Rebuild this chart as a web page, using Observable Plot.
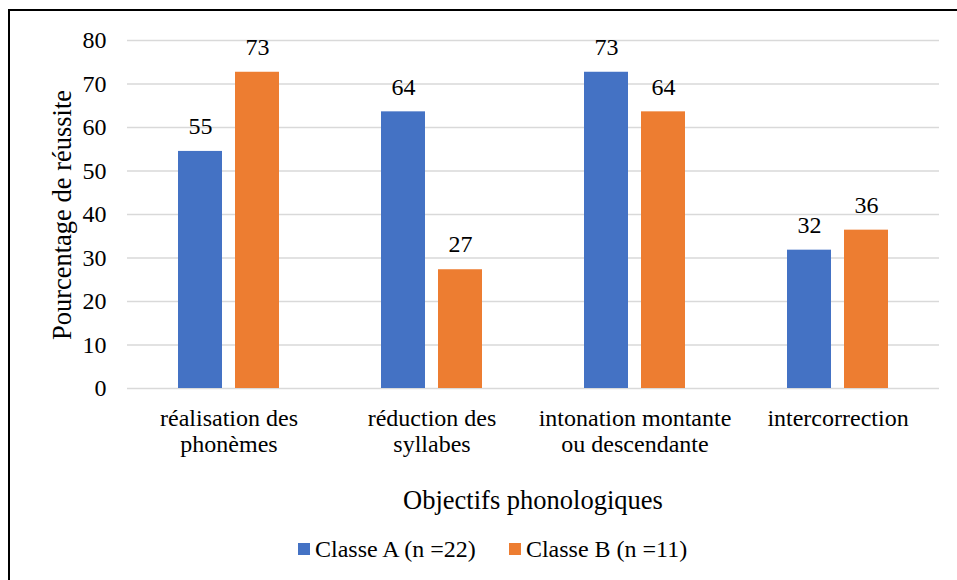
<!DOCTYPE html>
<html>
<head>
<meta charset="utf-8">
<script src="https://cdn.jsdelivr.net/npm/d3@7"></script>
<script src="https://cdn.jsdelivr.net/npm/@observablehq/plot@0.6"></script>
<style>
  html, body { margin: 0; padding: 0; background: #fff; }
  #wrap { position: relative; width: 957px; height: 580px; overflow: hidden; background: #fff;
          font-family: "Liberation Serif", "Times New Roman", serif; color: #000; }
  #border { position: absolute; left: 8px; top: 9px; width: 1200px; height: 1200px; border: 2px solid #000; box-sizing: border-box; }
  #chart { position: absolute; left: 0; top: 0; }
  #chart svg, #chart svg text { font-family: "Liberation Serif", "Times New Roman", serif !important; }
  #ytitle { position: absolute; left: 62px; top: 215px; font-size: 26.5px; white-space: nowrap;
            transform: translate(-50%, -50%) rotate(-90deg); line-height: 1; }
  #xtitle { position: absolute; left: 533px; top: 500px; font-size: 26.5px; white-space: nowrap;
            transform: translate(-50%, -50%); line-height: 1; }
  #legend { position: absolute; left: 298px; top: 549px; transform: translateY(-50%); display: flex; align-items: center;
            font-size: 24px; white-space: nowrap; line-height: 1; }
  .sw { display: inline-block; width: 12px; height: 12px; margin-right: 5px; }
  .item { display: flex; align-items: center; margin-right: 33px; }
</style>
</head>
<body>
<div id="wrap">
  <div id="border"></div>
  <div id="chart"></div>
  <div id="ytitle"></div>
  <div id="xtitle"></div>
  <div id="legend"></div>
</div>
<script>
const categories = ["réalisation des\nphonèmes", "réduction des\nsyllabes", "intonation montante\nou descendante", "intercorrection"];
const seriesNames = ["Classe A (n =22)", "Classe B (n =11)"];
const valuesA = [54.5, 63.6, 72.7, 31.8];
const valuesB = [72.7, 27.3, 63.6, 36.4];
const colors = ["#4472C4", "#ED7D31"];
const yTicks = [0, 10, 20, 30, 40, 50, 60, 70, 80];
const yTitle = "Pourcentage de réussite";
const xTitle = "Objectifs phonologiques";
const serif = "Liberation Serif";

const data = [];
categories.forEach((c, i) => {
  data.push({cat: c, series: seriesNames[0], value: valuesA[i]});
  data.push({cat: c, series: seriesNames[1], value: valuesB[i]});
});

const chart = Plot.plot({
  width: 957,
  height: 470,
  marginTop: 40,
  marginBottom: 82,
  marginLeft: 126,
  marginRight: 17,
  style: {fontFamily: serif, fontSize: "24px", color: "#000", background: "transparent", overflow: "visible"},
  fx: {domain: categories, padding: 0},
  x: {domain: seriesNames, paddingInner: 0.224, paddingOuter: 0.866, axis: null},
  y: {domain: [0, 80], axis: null},
  color: {domain: seriesNames, range: colors},
  marks: [
    Plot.gridY(yTicks, {stroke: "#d9d9d9", strokeOpacity: 1, strokeWidth: 1.5}),
    Plot.barY(data, {fx: "cat", x: "series", y: "value", fill: "series"}),
    Plot.text(data, {fx: "cat", x: "series", y: "value", text: d => String(Math.round(d.value)), dy: -25, fontSize: 24, fontFamily: serif, fill: "#000"}),
    Plot.axisY(yTicks, {tickSize: 0, tickPadding: 21, fontSize: 24, fontFamily: serif, label: null}),
    Plot.axisFx({anchor: "bottom", tickSize: 0, tickPadding: 18, fontSize: 24, fontFamily: serif, lineHeight: 1.12, label: null})
  ]
});
document.getElementById("chart").appendChild(chart);
document.getElementById("ytitle").textContent = yTitle;
document.getElementById("xtitle").textContent = xTitle;
const legend = document.getElementById("legend");
seriesNames.forEach((s, i) => {
  const item = document.createElement("span");
  item.className = "item";
  const sw = document.createElement("span");
  sw.className = "sw";
  sw.style.background = colors[i];
  item.appendChild(sw);
  item.appendChild(document.createTextNode(s));
  legend.appendChild(item);
});
</script>
</body>
</html>
